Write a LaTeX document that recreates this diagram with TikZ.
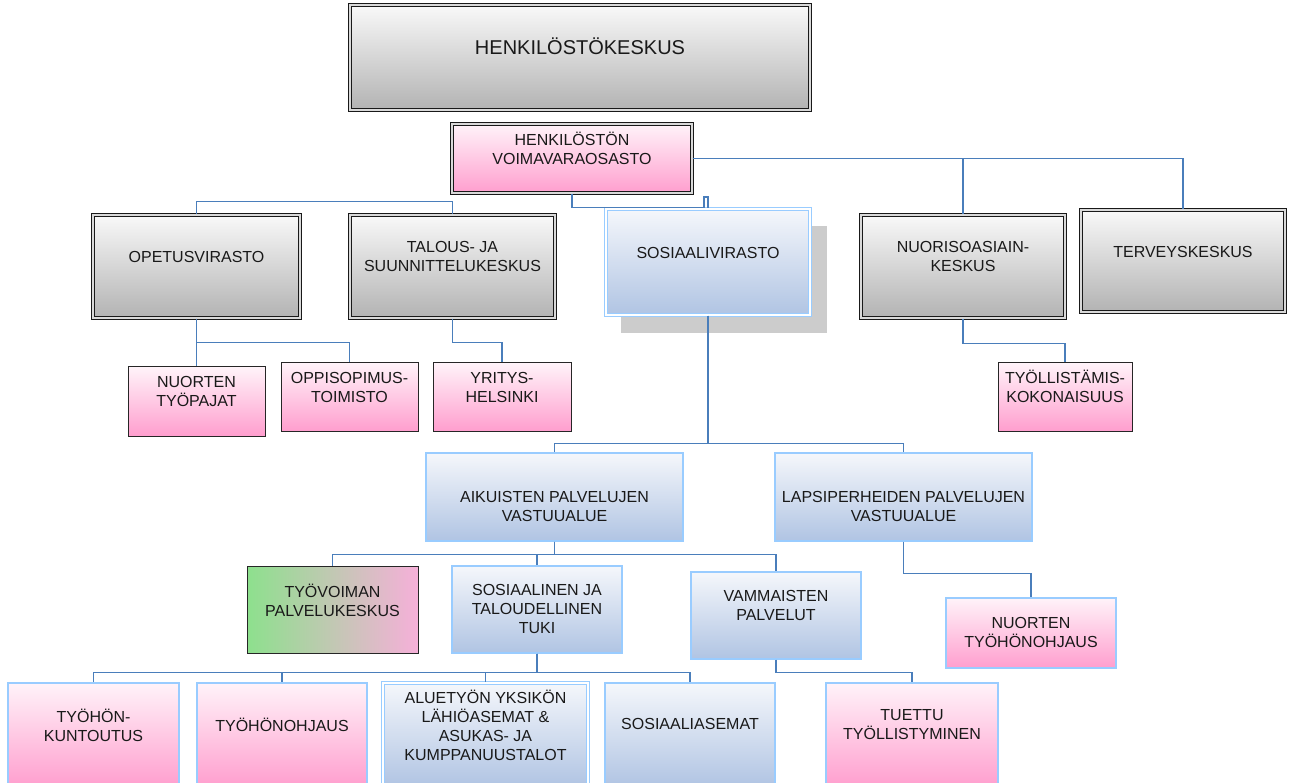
\documentclass[tikz,border=0pt]{standalone}
\usepackage{fontspec}
\setmainfont{Liberation Sans}
\usepackage{tikz}
\usetikzlibrary{positioning}
\usepackage{xcolor}

\definecolor{connblue}{HTML}{4A7EBB}
\definecolor{lblue}{HTML}{99CCFF}
\definecolor{bluetop}{HTML}{F5F7FB}
\definecolor{bluebot}{HTML}{B0C4E3}
\definecolor{pinktop}{HTML}{FFF3F9}
\definecolor{pinkbot}{HTML}{FF9ECE}
\definecolor{vgreen}{HTML}{8DE08D}
\definecolor{vpink}{HTML}{F6B0D9}

\begin{document}
\begin{tikzpicture}[x=1pt,y=-1pt,
  box/.style={rectangle, inner sep=0pt},
  dbl/.style={double distance=1.1pt, line width=1.2pt},
  graybox/.style={box, dbl, draw=black!90, double=gray!30, top color=gray!5, bottom color=gray!60},
  pinkdbl/.style={box, dbl, draw=black!90, double=gray!30, top color=pinktop, bottom color=pinkbot},
  pinkbox/.style={box, draw=black!85, line width=1pt, top color=pinktop, bottom color=pinkbot},
  pinkblue/.style={box, draw=lblue, line width=1.2pt, top color=pinktop, bottom color=pinkbot},
  bluebox/.style={box, draw=lblue, line width=1.2pt, top color=bluetop, bottom color=bluebot},
  bluedbl/.style={box, dbl, draw=lblue, double=white, top color=bluetop, bottom color=bluebot},
  mixbox/.style={box, draw=black!85, line width=1pt, left color=vgreen, right color=vpink},
  txt/.style={align=center, inner sep=0pt, text=black!90, font=\fontsize{16}{19}\selectfont},
  conn/.style={draw=connblue, line width=1.4pt}
  ]
\useasboundingbox (0,0) rectangle (1290,783);

% top levels
\node[graybox, minimum width=460pt, minimum height=105pt] (hk) at (580,57.5) {};
\node[txt, font=\fontsize{20}{24}\selectfont] (hk-t) at (580,46) {HENKILÖSTÖKESKUS};

\node[pinkdbl, minimum width=240pt, minimum height=69pt] (hr) at (572,158.5) {};
\node[txt] (hr-t) at (572,148.5) {HENKILÖSTÖN\\VOIMAVARAOSASTO};

% virastot
\node[graybox, minimum width=207pt, minimum height=103pt] (opetus) at (196.5,266.5) {};
\node[txt] (opetus-t) at (196.5,256.5) {OPETUSVIRASTO};

\node[graybox, minimum width=205pt, minimum height=103pt] (talous) at (452.5,266.5) {};
\node[txt] (talous-t) at (452.5,256.5) {TALOUS- JA\\SUUNNITTELUKESKUS};

\fill[gray!40] (621,226) rectangle (827,333);
\node[bluedbl, minimum width=204pt, minimum height=106pt] (sosv) at (708,262) {};
\node[txt] (sosv-t) at (708,252.5) {SOSIAALIVIRASTO};

\node[graybox, minimum width=204pt, minimum height=103pt] (nuoriso) at (963,266.5) {};
\node[txt] (nuoriso-t) at (963,256) {NUORISOASIAIN-\\KESKUS};

\node[graybox, minimum width=204pt, minimum height=102pt] (terveys) at (1183,261) {};
\node[txt] (terveys-t) at (1183,252) {TERVEYSKESKUS};

% alayksikot
\node[pinkbox, minimum width=137pt, minimum height=69pt] (ntp) at (196.5,401.5) {};
\node[txt] (ntp-t) at (196.5,391) {NUORTEN\\TYÖPAJAT};

\node[pinkbox, minimum width=137pt, minimum height=68pt] (oppi) at (349.5,397) {};
\node[txt] (oppi-t) at (349.5,387) {OPPISOPIMUS-\\TOIMISTO};

\node[pinkbox, minimum width=138pt, minimum height=68pt] (yritys) at (502,397) {};
\node[txt] (yritys-t) at (502,387.5) {YRITYS-\\HELSINKI};

\node[pinkbox, minimum width=134pt, minimum height=68pt] (tyoll) at (1065,397) {};
\node[txt] (tyoll-t) at (1065,386) {TYÖLLISTÄMIS-\\KOKONAISUUS};

% vastuualueet
\node[bluebox, minimum width=257pt, minimum height=88pt] (aikuiset) at (554.5,497) {};
\node[txt] (aikuiset-t) at (554.5,506) {AIKUISTEN PALVELUJEN\\VASTUUALUE};

\node[bluebox, minimum width=257pt, minimum height=88pt] (lapsi) at (903.5,497) {};
\node[txt] (lapsi-t) at (903.5,506) {LAPSIPERHEIDEN PALVELUJEN\\VASTUUALUE};

\node[mixbox, minimum width=171pt, minimum height=87pt] (tyovoima) at (332.5,609.5) {};
\node[txt] (tyovoima-t) at (332.5,600) {TYÖVOIMAN\\PALVELUKESKUS};

\node[bluebox, minimum width=170pt, minimum height=87pt] (sostuki) at (537,609.5) {};
\node[txt] (sostuki-t) at (537,609) {SOSIAALINEN JA\\TALOUDELLINEN\\TUKI};

\node[bluebox, minimum width=170pt, minimum height=87pt] (vammaiset) at (776,615.5) {};
\node[txt] (vammaiset-t) at (776,605.5) {VAMMAISTEN\\PALVELUT};

\node[pinkblue, minimum width=170pt, minimum height=70pt] (ntho) at (1031,633) {};
\node[txt] (ntho-t) at (1031,632.5) {NUORTEN\\TYÖHÖNOHJAUS};

% alin rivi
\node[pinkblue, minimum width=171pt, minimum height=104pt] (tkunt) at (93.5,735) {};
\node[txt] (tkunt-t) at (93.5,725) {TYÖHÖN-\\KUNTOUTUS};

\node[pinkblue, minimum width=170pt, minimum height=104pt] (tohj) at (282,735) {};
\node[txt] (tohj-t) at (282,725) {TYÖHÖNOHJAUS};

\node[bluedbl, minimum width=205pt, minimum height=104pt] (alue) at (485.5,735) {};
\node[txt] (alue-t) at (485.5,725.5) {ALUETYÖN YKSIKÖN\\LÄHIÖASEMAT \&\\ASUKAS- JA\\KUMPPANUUSTALOT};

\node[bluebox, minimum width=170pt, minimum height=104pt] (sosasema) at (690,735) {};
\node[txt] (sosasema-t) at (690,724) {SOSIAALIASEMAT};

\node[pinkblue, minimum width=172pt, minimum height=104pt] (tuettu) at (912,735) {};
\node[txt] (tuettu-t) at (912,724.5) {TUETTU\\TYÖLLISTYMINEN};

% yhteydet
\draw[conn] (hr.east) -| (terveys.north);
\draw[conn] (nuoriso.north) -- (nuoriso.north |- hr.east);
\draw[conn] (hr.south) -- ++(0,14) -| (704,197) -- (708,197) -- (sosv.north);
\draw[conn] (opetus.north) -- ++(0,-13) -| (talous.north);

\draw[conn] (opetus.south) -- (ntp.north);
\draw[conn] (opetus.south) -- ++(0,24) -| (oppi.north);
\draw[conn] (talous.south) -- ++(0,24) -| (yritys.north);
\draw[conn] (nuoriso.south) -- ++(0,25) -| (tyoll.north);

\draw[conn] (sosv.south) -- ++(0,128) -| (aikuiset.north);
\draw[conn] (sosv.south) -- ++(0,128) -| (lapsi.north);

\draw[conn] (aikuiset.south) -- ++(0,13) -| (tyovoima.north);
\draw[conn] (aikuiset.south) -- ++(0,13) -| (sostuki.north);
\draw[conn] (aikuiset.south) -- ++(0,13) -| (vammaiset.north);
\draw[conn] (lapsi.south) -- ++(0,32) -| (ntho.north);

\draw[conn] (sostuki.south) -- ++(0,19) -| (tkunt.north);
\draw[conn] (sostuki.south) -- ++(0,19) -| (tohj.north);
\draw[conn] (sostuki.south) -- ++(0,19) -| (alue.north);
\draw[conn] (sostuki.south) -- ++(0,19) -| (sosasema.north);
\draw[conn] (vammaiset.south) -- ++(0,13) -| (tuettu.north);

\end{tikzpicture}
\end{document}
